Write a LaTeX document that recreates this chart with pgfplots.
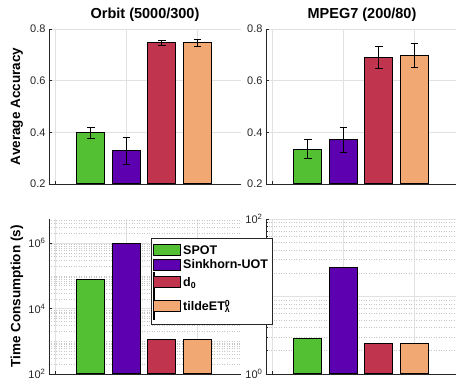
\documentclass[border=0pt]{standalone}
\usepackage{pgfplots}
\pgfplotsset{compat=1.18}
\usepackage{fontspec}
\setmainfont{Liberation Sans}
\setsansfont{Liberation Sans}
\definecolor{cspot}{RGB}{83,192,52}
\definecolor{csink}{RGB}{92,0,176}
\definecolor{cdzero}{RGB}{192,52,78}
\definecolor{ctilde}{RGB}{242,168,115}
\definecolor{tickgray}{RGB}{38,38,38}
\definecolor{gridgray}{RGB}{225,225,225}
\pgfplotsset{
  base/.style={scale only axis, width=192pt, height=155pt, anchor=south west,
    axis x line*=bottom, axis y line*=left,
    axis line style={draw=tickgray, line width=0.7pt},
    xmin=-0.18, xmax=5.23, xtick={0,2,4}, xticklabels={},
    tick align=inside, major tick length=3pt, minor tick length=1.5pt,
    tick style={tickgray, line width=0.6pt},
    grid=major, major grid style={gridgray, line width=0.6pt},
    ticklabel style={font=\fontsize{11}{11}\selectfont, text=tickgray},
    /pgf/number format/assume math mode=true,
    title style={font=\bfseries\fontsize{14.5}{15}\selectfont, at={(axis description cs:0.5,1)}, anchor=base, yshift=4pt},
    ylabel style={font=\bfseries\fontsize{13.5}{14}\selectfont, at={(axis description cs:-0.167,0.5)}, anchor=center},
  },
  acc/.style={base, ymin=0.2, ymax=0.8, ytick={0.2,0.4,0.6,0.8},
    yticklabel style={/pgf/number format/fixed, /pgf/number format/precision=1, /pgf/number format/fixed zerofill}},
  bars/.style={ybar, bar width=28pt, bar shift=0pt, draw=black, line width=1pt,
    /pgfplots/error bars/y dir=both, /pgfplots/error bars/y explicit,
    /pgfplots/error bars/error bar style={black, line width=0.8pt},
    /pgfplots/error bars/error mark options={rotate=90, mark size=3.8pt, black, line width=0.8pt}},
  tbars/.style={ybar, bar width=28pt, bar shift=0pt, draw=black, line width=1pt},
}
\begin{document}
\begin{tikzpicture}
% Top left
\begin{axis}[acc, at={(49pt,195pt)}, title={Orbit (5000/300)}, ylabel={Average Accuracy}]
\addplot[bars, fill=cspot] coordinates {(1,0.398) +- (0,0.021)};
\addplot[bars, fill=csink] coordinates {(2,0.328) +- (0,0.052)};
\addplot[bars, fill=cdzero] coordinates {(3,0.746) +- (0,0.008)};
\addplot[bars, fill=ctilde] coordinates {(4,0.746) +- (0,0.015)};
\end{axis}
% Top right
\begin{axis}[acc, at={(266pt,195pt)}, title={MPEG7 (200/80)}]
\addplot[bars, fill=cspot] coordinates {(1,0.335) +- (0,0.037)};
\addplot[bars, fill=csink] coordinates {(2,0.371) +- (0,0.049)};
\addplot[bars, fill=cdzero] coordinates {(3,0.690) +- (0,0.043)};
\addplot[bars, fill=ctilde] coordinates {(4,0.699) +- (0,0.046)};
\end{axis}
% Bottom right
\begin{axis}[base, at={(266pt,5pt)}, ymode=log, log origin=infty, ymin=1, ymax=100,
  ytick={1,10,100}, yticklabels={10\textsuperscript{0},,10\textsuperscript{2}},
  minor ytick={2,3,4,5,6,7,8,9,20,30,40,50,60,70,80,90},
  minor grid style={gray!45, line width=0.5pt, dotted}, grid=both]
\addplot[tbars, fill=cspot] coordinates {(1,2.89)};
\addplot[tbars, fill=csink] coordinates {(2,23.6)};
\addplot[tbars, fill=cdzero] coordinates {(3,2.51)};
\addplot[tbars, fill=ctilde] coordinates {(4,2.51)};
\end{axis}
% Bottom left
\begin{axis}[base, at={(49pt,5pt)}, ymode=log, log origin=infty, ymin=100, ymax=5.5e6,
  ylabel={Time Consumption (s)},
  ytick={1e2,1e4,1e6}, yticklabels={10\textsuperscript{2},10\textsuperscript{4},10\textsuperscript{6}},
  minor ytick={200,300,400,500,600,700,800,900,1000,2000,3000,4000,5000,6000,7000,8000,9000,
    1e4,2e4,3e4,4e4,5e4,6e4,7e4,8e4,9e4,1e5,2e5,3e5,4e5,5e5,6e5,7e5,8e5,9e5,
    2e6,3e6,4e6,5e6},
  minor grid style={gray!45, line width=0.5pt, dotted}, grid=both,
  legend style={at={(axis description cs:0.531,0.877)}, anchor=north west,
    draw=tickgray, line width=0.6pt, fill=white, font=\bfseries\fontsize{12.5}{13}\selectfont,
    row sep=0pt, inner xsep=2pt, inner ysep=5pt},
  legend cell align=left]
\addplot[tbars, fill=cspot, forget plot] coordinates {(1,7.9e4)};
\addplot[tbars, fill=csink, forget plot] coordinates {(2,1.0e6)};
\addplot[tbars, fill=cdzero, forget plot] coordinates {(3,1.17e3)};
\addplot[tbars, fill=ctilde, forget plot] coordinates {(4,1.17e3)};
\addlegendimage{legend image code/.code={\draw[fill=cspot,draw=black,line width=1pt] (0pt,-5.5pt) rectangle (27pt,5.5pt);}}
\addlegendentry{SPOT}
\addlegendimage{legend image code/.code={\draw[fill=csink,draw=black,line width=1pt] (0pt,-5.5pt) rectangle (27pt,5.5pt);}}
\addlegendentry{Sinkhorn-UOT}
\addlegendimage{legend image code/.code={\path (0pt,-10pt) rectangle (1pt,10pt);\draw[fill=cdzero,draw=black,line width=1pt] (0pt,-5.5pt) rectangle (27pt,5.5pt);}}
\addlegendentry{d\textsubscript{0}}
\addlegendimage{legend image code/.code={\path (0pt,-13pt) rectangle (1pt,13pt);\draw[fill=ctilde,draw=black,line width=1pt] (0pt,-5.5pt) rectangle (27pt,5.5pt);}}
\addlegendentry{tildeET\rlap{\textsuperscript{0}}\textsubscript{λ}}
\end{axis}
\pgfresetboundingbox
\useasboundingbox (0,0) rectangle (456pt,379pt);
\end{tikzpicture}
\end{document}
